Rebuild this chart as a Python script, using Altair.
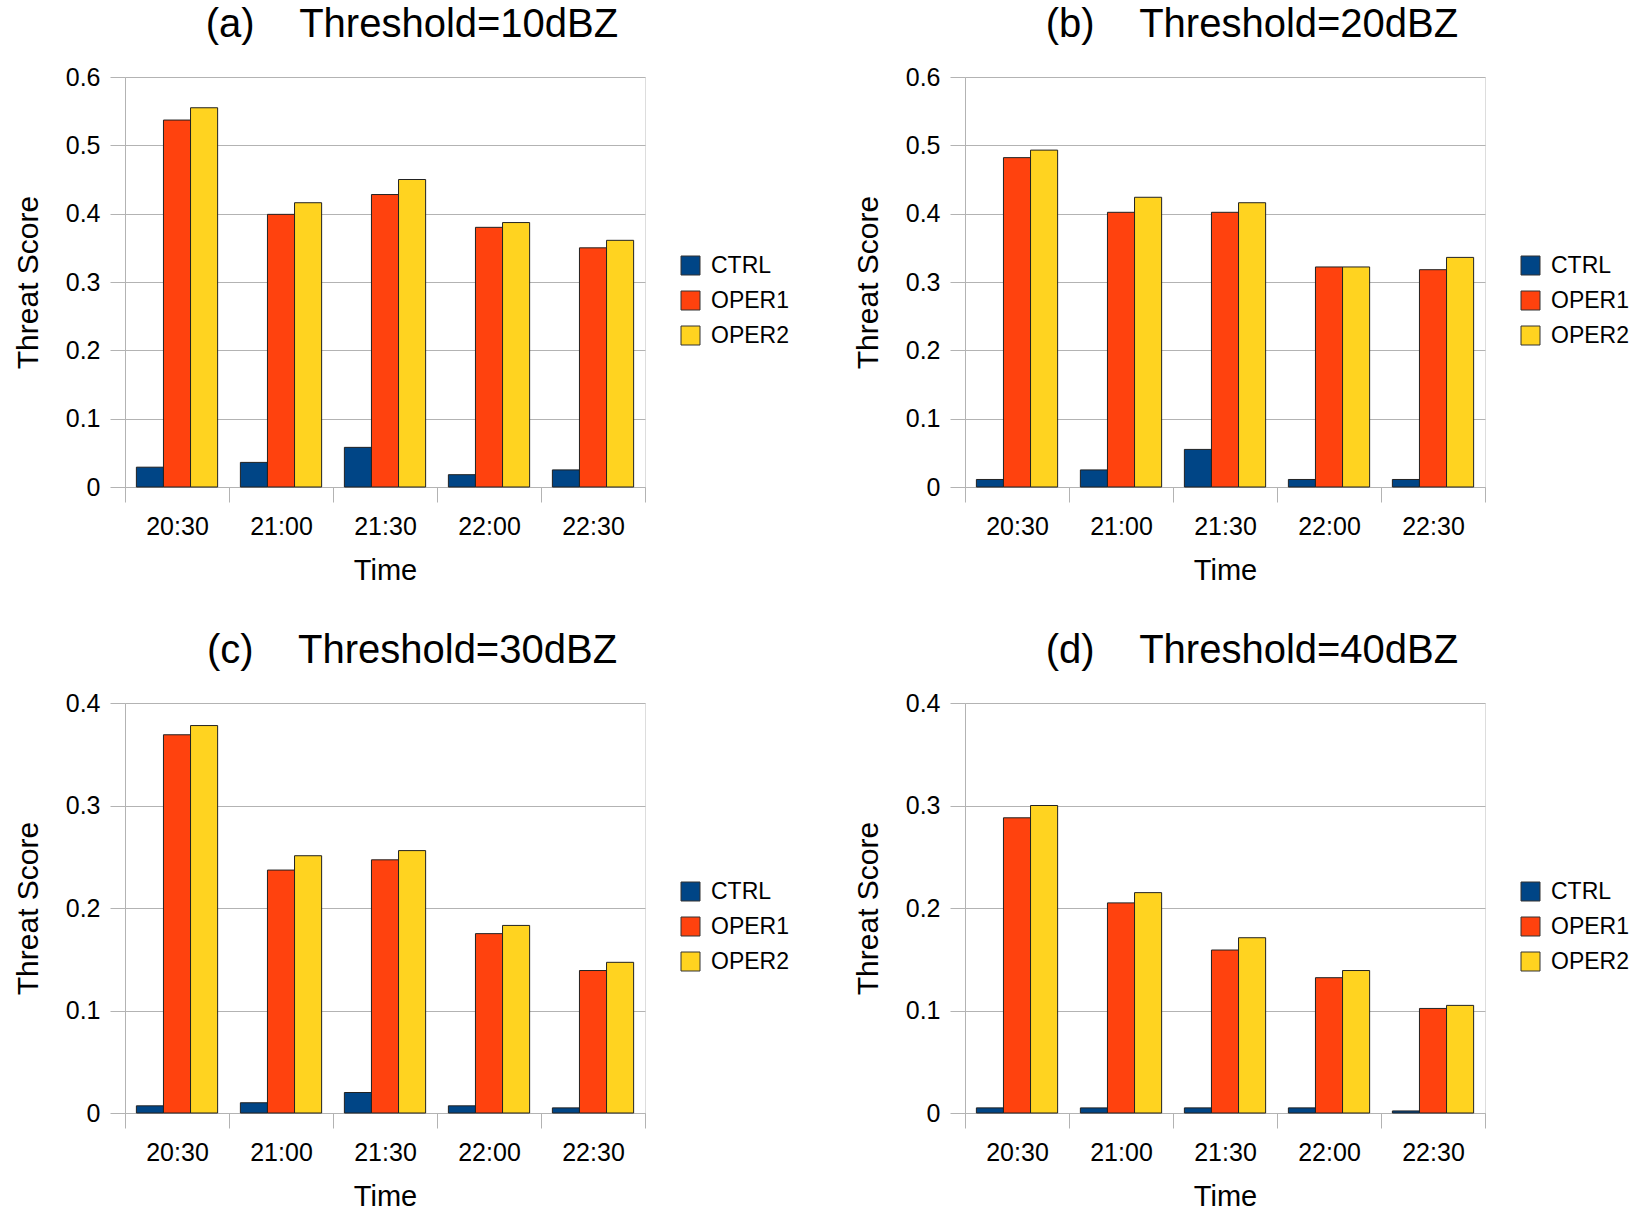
import altair as alt
import pandas as pd

times = ["20:30", "21:00", "21:30", "22:00", "22:30"]
series = ["CTRL", "OPER1", "OPER2"]
colors = ["#004586", "#ff420e", "#ffd320"]

panel_labels = ["(a)", "(b)", "(c)", "(d)"]
thresholds = ["Threshold=10dBZ", "Threshold=20dBZ", "Threshold=30dBZ", "Threshold=40dBZ"]

a_ctrl = [0.029, 0.036, 0.058, 0.018, 0.025]
a_oper1 = [0.537, 0.399, 0.428, 0.380, 0.350]
a_oper2 = [0.555, 0.416, 0.450, 0.387, 0.361]

b_ctrl = [0.011, 0.025, 0.055, 0.011, 0.011]
b_oper1 = [0.482, 0.402, 0.402, 0.322, 0.318]
b_oper2 = [0.493, 0.424, 0.416, 0.322, 0.336]

c_ctrl = [0.007, 0.010, 0.020, 0.007, 0.005]
c_oper1 = [0.369, 0.237, 0.247, 0.175, 0.139]
c_oper2 = [0.378, 0.251, 0.256, 0.183, 0.147]

d_ctrl = [0.005, 0.005, 0.005, 0.005, 0.002]
d_oper1 = [0.288, 0.205, 0.159, 0.132, 0.102]
d_oper2 = [0.300, 0.215, 0.171, 0.139, 0.105]

y_max = [0.6, 0.6, 0.4, 0.4]
ticks_06 = [0, 0.1, 0.2, 0.3, 0.4, 0.5, 0.6]
ticks_04 = [0, 0.1, 0.2, 0.3, 0.4]

GRAY = "#b3b3b3"
FONT = "Liberation Sans"


def panel(label, thr, ctrl, o1, o2, ymax, ticks):
    df = pd.DataFrame({
        "Time": times * 3,
        "Series": [s for s in series for _ in times],
        "Score": ctrl + o1 + o2,
    })
    return alt.Chart(df).mark_bar(stroke="#222222", strokeWidth=1).encode(
        x=alt.X("Time:N", sort=times,
                scale=alt.Scale(paddingInner=0, paddingOuter=0),
                axis=alt.Axis(title="Time", labelAngle=0, tickBand="extent",
                              tickSize=15, tickColor=GRAY, domainColor=GRAY,
                              labelFontSize=25, labelPadding=12, labelColor="black",
                              titleFontSize=29, titleFontWeight="normal",
                              titleColor="black", titlePadding=17, labelFont=FONT,
                              titleFont=FONT)),
        xOffset=alt.XOffset("Series:N", sort=series,
                            scale=alt.Scale(paddingInner=0, paddingOuter=0.42)),
        y=alt.Y("Score:Q", scale=alt.Scale(domain=[0, ymax], nice=False),
                axis=alt.Axis(title="Threat Score", values=ticks, format="~g",
                              tickSize=15, tickColor=GRAY, domainColor=GRAY,
                              gridColor=GRAY, labelFontSize=25, labelPadding=10,
                              labelColor="black", titleFontSize=30,
                              titleFontWeight="normal", titleColor="black",
                              titlePadding=22, labelFont=FONT, titleFont=FONT)),
        color=alt.Color("Series:N", sort=series,
                        scale=alt.Scale(domain=series, range=colors),
                        legend=alt.Legend(title=None, orient="none", legendX=554,
                                          legendY=177, padding=0, symbolType="square",
                                          symbolSize=361, symbolStrokeColor="#333333",
                                          symbolStrokeWidth=1, labelFontSize=23,
                                          labelColor="black", labelFont=FONT,
                                          labelOffset=9, rowPadding=11)),
    ).properties(
        width=520, height=410,
        title=alt.TitleParams(text=label + "\u00a0\u00a0\u00a0\u00a0" + thr,
                              fontSize=40, fontWeight="normal", font=FONT,
                              color="black", anchor="middle", frame="group",
                              dx=27, offset=-12, baseline="alphabetic"),
    )


pa = panel(panel_labels[0], thresholds[0], a_ctrl, a_oper1, a_oper2, y_max[0], ticks_06)
pb = panel(panel_labels[1], thresholds[1], b_ctrl, b_oper1, b_oper2, y_max[1], ticks_06)
pc = panel(panel_labels[2], thresholds[2], c_ctrl, c_oper1, c_oper2, y_max[2], ticks_04)
pd_ = panel(panel_labels[3], thresholds[3], d_ctrl, d_oper1, d_oper2, y_max[3], ticks_04)

row1 = alt.hconcat(pa, pb, spacing=62).resolve_scale(color="independent").resolve_legend(color="independent")
row2 = alt.hconcat(pc, pd_, spacing=62).resolve_scale(color="independent").resolve_legend(color="independent")

chart = alt.vconcat(row1, row2, spacing=44).resolve_scale(
    color="independent"
).resolve_legend(color="independent").properties(
    padding={"left": 12, "top": 4, "right": 0, "bottom": 0}
).configure_view(stroke=GRAY, strokeWidth=1).configure(background="white")

chart.save("out.html", embed_options={"renderer": "svg", "actions": False})
